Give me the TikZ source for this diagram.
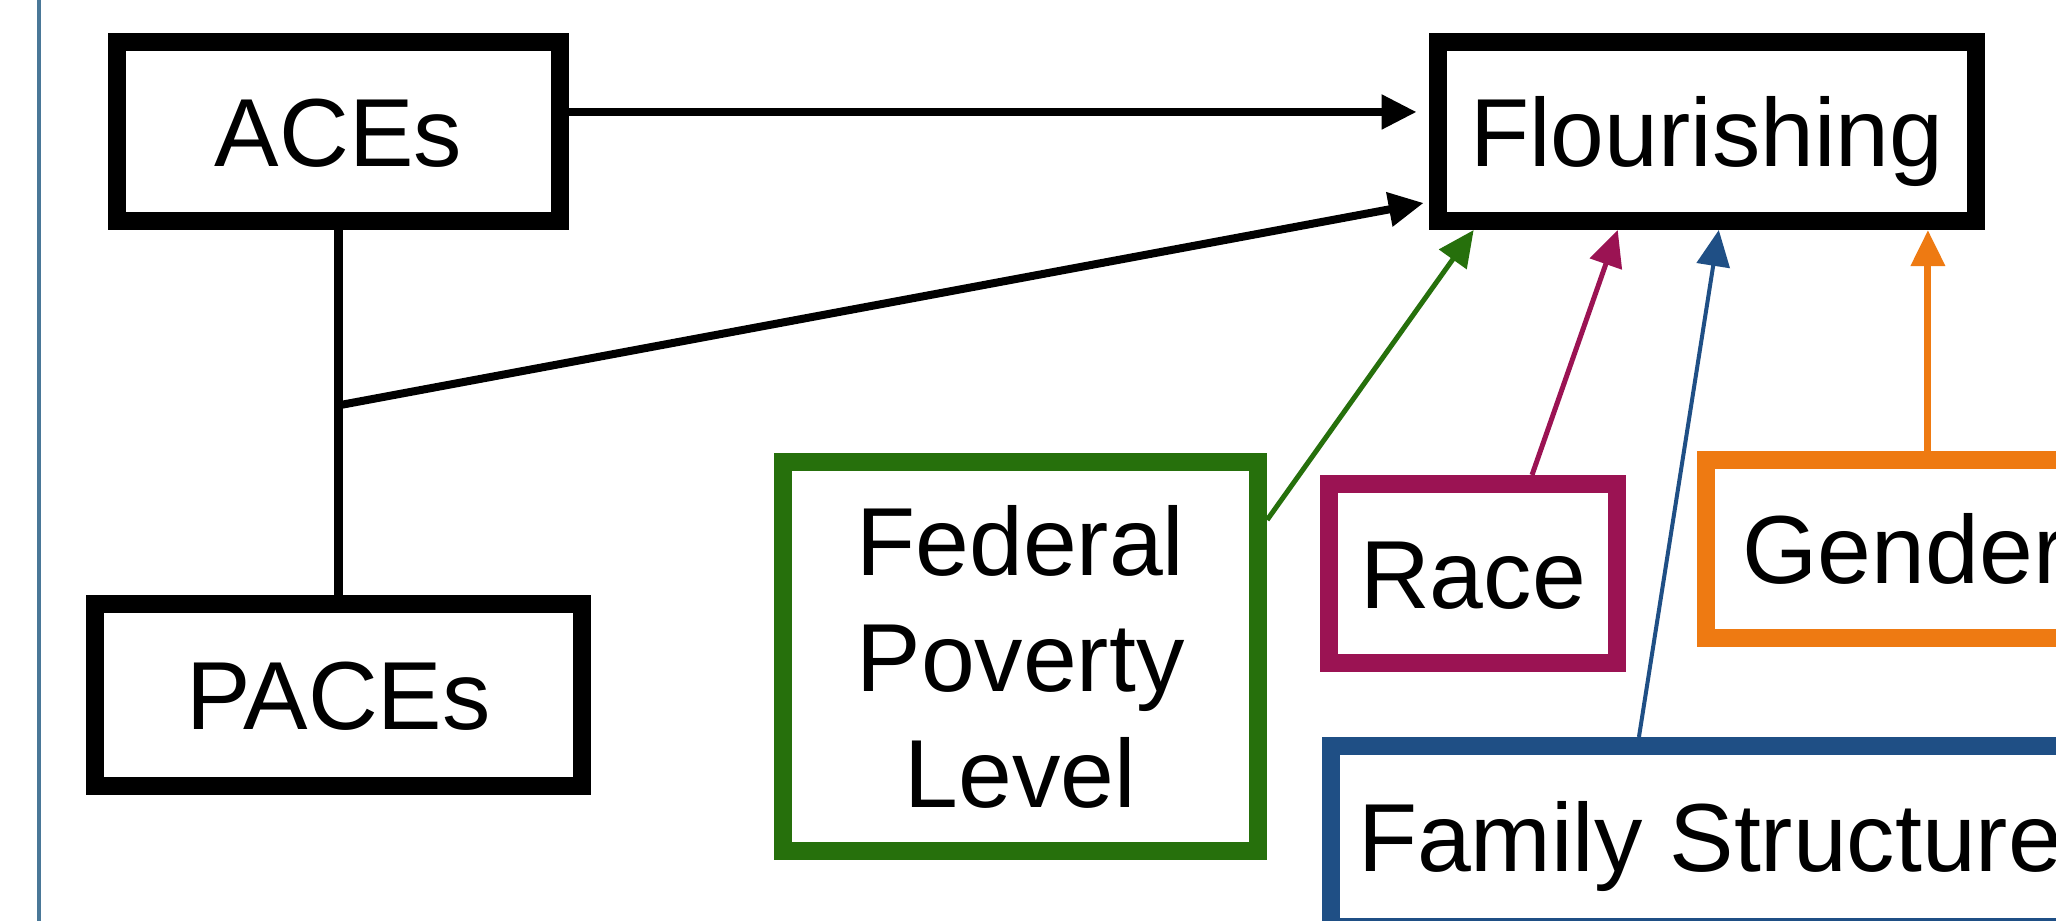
\documentclass[tikz,border=0pt]{standalone}
\usepackage{fontspec}
\setsansfont{Liberation Sans}
\usepackage{tikz}
\usetikzlibrary{arrows.meta, positioning, calc}
\definecolor{fplgreen}{HTML}{26700C}
\definecolor{racemag}{HTML}{9B1353}
\definecolor{famblue}{HTML}{1F4F85}
\definecolor{gendorange}{HTML}{EE7A12}
\definecolor{frameblue}{HTML}{4A7898}
\tikzset{
    varbox/.style={
        rectangle, draw=#1, line width=0.18cm, fill=white,
        font=\sffamily\fontsize{27.5}{33}\selectfont, text=black, align=center,
        inner sep=2pt
    },
    varbox/.default=black,
    oneline/.style={
        text height=0.69cm, text depth=0pt
    },
    pathline/.style={
        line width=0.08cm, color=black
    },
    patharrow/.style={
        -{Triangle[length=0.35cm, width=0.33cm]}, line width=0.08cm, color=black
    },
    covarrow/.style={
        -{Triangle[length=0.36cm, width=0.33cm]}, line width=0.05cm, color=#1
    },
}

\begin{document}
\begin{tikzpicture}[x=0.01cm, y=-0.01cm]

    \useasboundingbox (0,0) rectangle (2056,921);
    \clip (0,0) rectangle (2056,921);
    \fill[white] (0,0) rectangle (2056,921);
    \draw[frameblue, line width=0.03cm] (39,0) -- (39,921);

    % Exposures and outcome
    \node[varbox, oneline, minimum width=4.43cm, minimum height=1.79cm] (aces) at (338.5,131.5) {ACEs};
    \node[varbox, oneline, minimum width=4.87cm, minimum height=1.82cm, below=3.65cm of aces] (paces) {PACEs};
    \node[varbox, oneline, minimum width=5.38cm, minimum height=1.79cm, right=8.59cm of aces] (flour) {Flourishing};

    % Covariates
    \node[varbox=fplgreen, minimum width=4.75cm, minimum height=3.89cm] (fpl) at (1020.5,656.5) {Federal\\Poverty\\Level};
    \node[varbox=racemag, oneline, minimum width=2.88cm, minimum height=1.79cm] (race) at (1473,573.5) {Race};
    \node[varbox=gendorange, oneline, minimum width=3.96cm, minimum height=1.78cm] (gender) at (1904,549) {Gender};
    \node[varbox=famblue, oneline, minimum width=7.58cm, minimum height=1.81cm] (family) at (1710,836.5) {Family Structure};

    % Main paths
    \draw[patharrow, shorten >=0.12cm] ([yshift=0.195cm]aces.east) -- ([yshift=0.195cm]flour.west);
    \draw[pathline] (aces.south) -- (aces.south |- paces.north);
    \coordinate (join) at ($(aces.south)!0.48!(aces.south |- paces.north)$);
    \draw[patharrow, shorten >=0.05cm] (join) -- ([yshift=-0.705cm]flour.west);

    % Covariate paths
    \draw[covarrow=fplgreen] ([yshift=1.365cm]fpl.east) -- ([xshift=0.45cm]flour.south west);
    \draw[covarrow=racemag] ([xshift=0.59cm]race.north) -- ([xshift=1.89cm]flour.south west);
    \draw[covarrow=famblue, line width=0.04cm] ([xshift=-0.71cm]family.north) -- ([xshift=2.90cm]flour.south west);
    \coordinate (gtip) at ([xshift=4.99cm]flour.south west);
    \draw[covarrow=gendorange, line width=0.07cm] (gender.north -| gtip) -- (gtip);

\end{tikzpicture}
\end{document}
